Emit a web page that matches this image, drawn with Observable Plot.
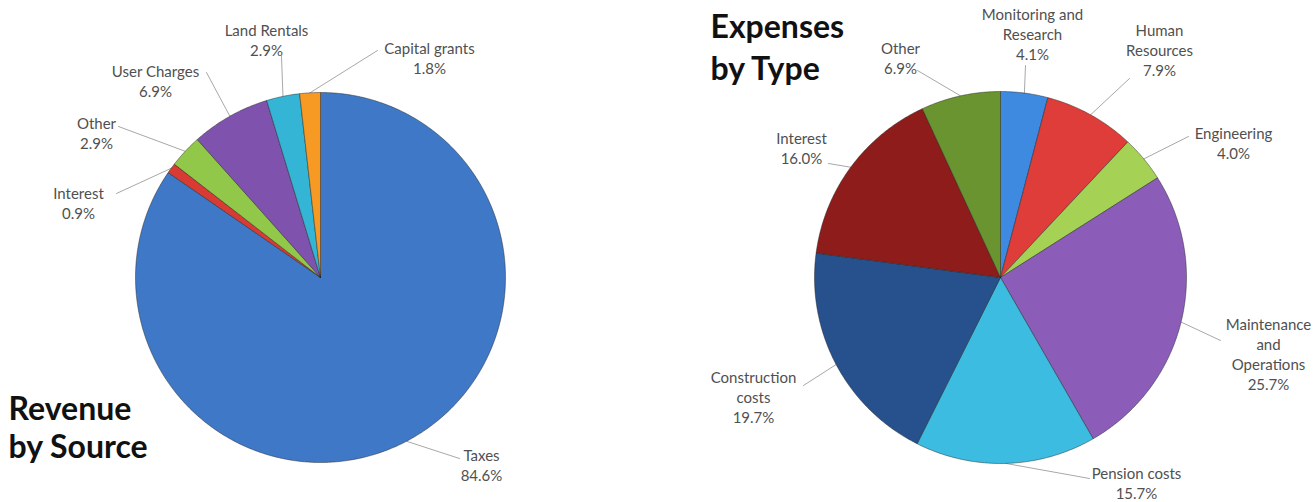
<!DOCTYPE html>
<html><head><meta charset="utf-8">
<script src="https://cdn.jsdelivr.net/npm/d3@7"></script>
<script src="https://cdn.jsdelivr.net/npm/@observablehq/plot@0.6"></script>
<style>body{margin:0;background:#fff;} svg{display:block;}</style>
</head><body><div id="chart"></div>
<script>
// ---- data ----
const revenueCategories = ["Taxes", "Interest", "Other", "User Charges", "Land Rentals", "Capital grants"];
const revenueValues = [84.6, 0.9, 2.9, 6.9, 2.9, 1.8];
const revenueLabels = ["Taxes", "Interest", "Other", "User Charges", "Land Rentals", "Capital grants"];

const expenseCategories = ["Monitoring and Research", "Human Resources", "Engineering", "Maintenance and Operations", "Pension costs", "Construction costs", "Interest", "Other"];
const expenseValues = [4.1, 7.9, 4.0, 25.7, 15.7, 19.7, 16.0, 6.9];
const expenseLabels = ["Monitoring and\nResearch", "Human\nResources", "Engineering", "Maintenance\nand\nOperations", "Pension costs", "Construction\ncosts", "Interest", "Other"];

const titleLines = [["Revenue", "by Source"], ["Expenses", "by Type"]];

// ---- styles ----
const revenueColors = ["#3e78c6", "#d83a34", "#91c84a", "#7f53ad", "#35b5d6", "#f79a24"];
const expenseColors = ["#3d8ae0", "#df3d3a", "#a5d255", "#8b5db9", "#3bbce0", "#26518c", "#8e1c1a", "#6a942f"];

// ---- layout (chart units) ----
const pieLayout = [{cx: 320, cy: 277, r: 185}, {cx: 1000, cy: 277, r: 186}];
// centre of the first line of each label
const revenueLabelPos = [[481, 454], [78, 192], [96, 122], [155, 70], [266, 29], [429, 47]];
const revenueLeaderEnd = [[459, 458], [116, 193], [118, 126], [206, 72], [281, 56], [377, 50]];
const expenseLabelPos = [[1032, 13], [1159, 29], [1233, 132], [1268, 323], [1136, 472], [753, 376], [801, 137], [900, 47]];
const expenseLeaderEnd = [[1025, 65], [1129, 78], [1188, 136], [1220, 340], [1089, 478], [803, 385], [828, 163], [917, 70]];
// [x, first baseline, line spacing]
const titleLayout = [[8, 419, 38], [710, 37, 42]];
const LINE = 20, LABEL_SIZE = 15, TITLE_SIZE = 32;

function build(cats, vals, labels, colors, lay, labelPos, leaderEnd, pieIdx) {
  const arcs = d3.pie().sort(null).value(d => d)(vals);
  const pts = [], leaders = [], texts = [];
  arcs.forEach((a, i) => {
    const id = pieIdx + "-" + i;
    const n = Math.max(2, Math.ceil((a.endAngle - a.startAngle) / 0.01));
    pts.push({id, x: lay.cx, y: lay.cy, c: colors[i]});
    for (let k = 0; k <= n; k++) {
      const t = a.startAngle + (a.endAngle - a.startAngle) * k / n;
      pts.push({id, x: lay.cx + lay.r * Math.sin(t), y: lay.cy - lay.r * Math.cos(t), c: colors[i]});
    }
    pts.push({id, x: lay.cx, y: lay.cy, c: colors[i]});
    const m = (a.startAngle + a.endAngle) / 2;
    leaders.push({id, x: lay.cx + lay.r * Math.sin(m), y: lay.cy - lay.r * Math.cos(m)});
    leaders.push({id, x: leaderEnd[i][0], y: leaderEnd[i][1]});
    const txt = labels[i] + "\n" + vals[i].toFixed(1) + "%";
    const nl = txt.split("\n").length;
    texts.push({x: labelPos[i][0], y: labelPos[i][1] + (nl - 1) * LINE / 2, t: txt, cat: cats[i]});
  });
  return {pts, leaders, texts};
}

const R = build(revenueCategories, revenueValues, revenueLabels, revenueColors, pieLayout[0], revenueLabelPos, revenueLeaderEnd, 0);
const E = build(expenseCategories, expenseValues, expenseLabels, expenseColors, pieLayout[1], expenseLabelPos, expenseLeaderEnd, 1);
const slices = R.pts.concat(E.pts);
const leaders = R.leaders.concat(E.leaders);
const texts = R.texts.concat(E.texts);
const titleData = [];
titleLines.forEach((lines, i) => lines.forEach((t, j) => titleData.push({
  x: titleLayout[i][0],
  y: titleLayout[i][1] + j * titleLayout[i][2] - 0.71 * TITLE_SIZE,
  t
})));

const chart = Plot.plot({
  width: 1313, height: 502,
  margin: 0,
  x: {domain: [0, 1313], range: [0, 1313], axis: null},
  y: {domain: [0, 502], range: [0, 502], axis: null},
  color: {type: "identity"},
  style: {background: "#fff", fontFamily: "Lato, 'Open Sans', sans-serif"},
  marks: [
    Plot.line(leaders, {x: "x", y: "y", z: "id", stroke: "#a8a8a8", strokeWidth: 1}),
    Plot.line(slices, {x: "x", y: "y", z: "id", fill: "c", stroke: "#222", strokeOpacity: 0.45, strokeWidth: 1, strokeLinejoin: "round"}),
    Plot.text(texts, {x: "x", y: "y", text: "t", fontSize: LABEL_SIZE, lineHeight: LINE / LABEL_SIZE, fill: "#505050", textAnchor: "middle", lineAnchor: "middle"}),
    Plot.text(titleData, {x: "x", y: "y", text: "t", fontSize: TITLE_SIZE, fontWeight: "bold", fill: "#111", textAnchor: "start", lineAnchor: "top"})
  ]
});
document.getElementById("chart").appendChild(chart);
</script>
</body></html>
